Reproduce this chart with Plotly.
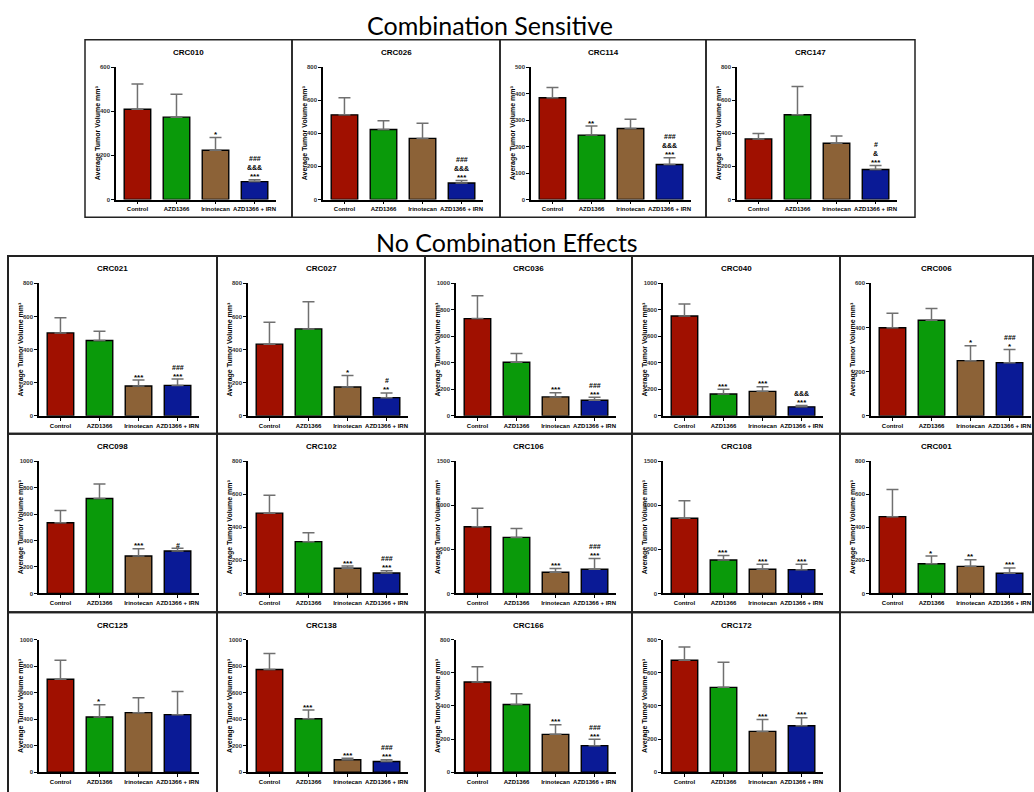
import plotly.graph_objects as go

# ---------------- data ----------------
groups = ["Control", "AZD1366", "Irinotecan", "AZD1366 + IRN"]
panels = ["CRC010", "CRC026", "CRC114", "CRC147",
          "CRC021", "CRC027", "CRC036", "CRC040", "CRC006",
          "CRC098", "CRC102", "CRC106", "CRC108", "CRC001",
          "CRC125", "CRC138", "CRC166", "CRC172"]
y_max = [600, 800, 500, 800, 800, 800, 1000, 1000, 600, 1000, 800, 1500, 1500, 800, 1000, 1000, 800, 800]
y_step = [200, 200, 100, 200, 200, 200, 200, 200, 200, 200, 200, 500, 500, 200, 200, 200, 200, 200]

control_mean = [409, 511, 384, 366, 501, 433, 734, 754, 399, 534, 485, 756, 851, 464, 701, 775, 544, 676]
control_sem = [114, 104, 39, 32, 92, 132, 173, 91, 66, 93, 108, 210, 199, 164, 144, 120, 92, 80]
azd_mean = [373, 423, 243, 512, 455, 525, 404, 165, 433, 717, 313, 635, 379, 180, 416, 403, 408, 512]
azd_sem = [104, 52, 34, 171, 56, 164, 67, 35, 53, 110, 54, 102, 52, 46, 93, 65, 66, 152]
irn_mean = [223, 369, 268, 340, 180, 174, 143, 185, 250, 283, 152, 241, 274, 164, 449, 93, 228, 246]
irn_sem = [58, 92, 35, 44, 36, 70, 32, 35, 68, 55, 14, 41, 56, 40, 112, 12, 58, 72]
combo_mean = [81, 100, 132, 181, 184, 110, 118, 68, 241, 321, 124, 274, 270, 122, 434, 80, 160, 280]
combo_sem = [9, 14, 26, 24, 38, 28, 22, 10, 59, 20, 14, 121, 60, 32, 174, 13, 38, 48]

# significance marks, lines listed top to bottom, separated by "|"
control_sig = [""] * 18
azd_sig = ["", "", "**", "", "", "", "", "***", "", "", "", "", "***", "*", "*", "***", "", ""]
irn_sig = ["*", "", "", "", "***", "*", "***", "***", "*", "***", "***", "***", "***", "**", "", "***", "***", "***"]
combo_sig = ["###|&&&|***", "###|&&&|***", "###|&&&|***", "#|&|***",
             "###|***", "#|**", "###|***", "&&&|***", "###|*",
             "#", "###|***", "###|***", "***", "***",
             "", "###|***", "###|***", "***"]

colors = ["#A01000", "#0A9A0A", "#8C6237", "#0A1A96"]

# ---------------- layout geometry ----------------
W, H = 1034, 792
top_lefts = [85, 292, 500, 706]
top_right = 915
grid_lefts = [8, 217, 425, 632, 840]
grid_right = 1033
row_tops = [255, 434, 614]
row_bottoms = [434, 614, 796]

boxes = []  # (L, T, R, B)
for i, L in enumerate(top_lefts):
    R = top_lefts[i + 1] if i + 1 < len(top_lefts) else top_right
    boxes.append((L, 37, R, 216))
for r in range(3):
    ncols = 5 if r < 2 else 4
    for c in range(ncols):
        L = grid_lefts[c]
        R = grid_lefts[c + 1] if c + 1 < len(grid_lefts) else grid_right
        boxes.append((L, row_tops[r], R, row_bottoms[r]))

fig = go.Figure()
annotations = []
shapes = []
FONT = "Liberation Sans, Arial, sans-serif"

for i, name in enumerate(panels):
    n = i + 1
    L, T, R, B = boxes[i]
    xs = "x" if n == 1 else f"x{n}"
    ys = "y" if n == 1 else f"y{n}"
    xk = "xaxis" if n == 1 else f"xaxis{n}"
    yk = "yaxis" if n == 1 else f"yaxis{n}"

    means = [control_mean[i], azd_mean[i], irn_mean[i], combo_mean[i]]
    sems = [control_sem[i], azd_sem[i], irn_sem[i], combo_sem[i]]
    sigs = [control_sig[i], azd_sig[i], irn_sig[i], combo_sig[i]]

    fig.add_trace(go.Bar(
        x=[0, 1, 2, 3], y=means, xaxis=xs, yaxis=ys, width=0.68,
        marker=dict(color=colors, line=dict(color="black", width=1.4)),
        error_y=dict(type="data", array=sems, arrayminus=[0, 0, 0, 0], symmetric=False,
                     color="#707070", thickness=1.5, width=6),
        hoverinfo="skip",
    ))

    x0 = (L + 31) / W
    x1 = (L + 191) / W
    y0 = 1 - (T + 161) / H
    y1 = 1 - (T + 27.5) / H

    fig.layout[xk] = dict(
        domain=[x0, x1], range=[-0.55, 3.55], anchor=ys,
        tickvals=[0, 1, 2, 3], ticktext=groups, tickangle=0,
        showline=True, linecolor="black", linewidth=1.5,
        ticks="outside", ticklen=3, tickwidth=1, tickcolor="black",
        tickfont=dict(size=6, family=FONT, color="black", weight="bold"),
        showgrid=False, zeroline=False, fixedrange=True,
    )
    fig.layout[yk] = dict(
        domain=[y0, y1], range=[0, y_max[i]], anchor=xs,
        tickvals=list(range(0, y_max[i] + 1, y_step[i])),
        showline=True, linecolor="black", linewidth=1.5,
        ticks="outside", ticklen=3, tickwidth=1, tickcolor="black",
        tickfont=dict(size=6, family=FONT, color="#333333", weight="bold"),
        showgrid=False, zeroline=False, fixedrange=True,
    )

    # panel title
    annotations.append(dict(
        text=name, x=(L + R) / 2 / W, y=1 - (T + 13) / H,
        xref="paper", yref="paper", showarrow=False, xanchor="center", yanchor="middle",
        font=dict(size=8, family=FONT, color="black", weight="bold"),
    ))
    # y axis title
    annotations.append(dict(
        text="Average Tumor Volume mm³",
        x=(L + 13) / W, y=(y0 + y1) / 2, xref="paper", yref="paper",
        showarrow=False, textangle=-90, xanchor="center", yanchor="middle",
        font=dict(size=7, family=FONT, color="black", weight="bold"),
    ))
    # significance marks
    for k in range(4):
        if not sigs[k]:
            continue
        lines = sigs[k].split("|")[::-1]  # bottom first
        for j, line in enumerate(lines):
            annotations.append(dict(
                text=line, x=k, y=means[k] + sems[k], xref=xs, yref=ys,
                showarrow=False, xanchor="center", yanchor="middle",
                yshift=3 + 9 * j,
                font=dict(size=8 if "*" in line else 7, family=FONT, color="black", weight="bold"),
            ))

    # panel frame
    shapes.append(dict(
        type="rect", xref="paper", yref="paper",
        x0=L / W, x1=R / W, y0=1 - B / H, y1=1 - T / H,
        line=dict(color="#222222", width=1.5 if i < 4 else 2), fillcolor="rgba(0,0,0,0)",
        layer="below",
    ))

annotations.append(dict(
    text="Combination Sensitive", x=490 / W, y=1 - 22 / H, xref="paper", yref="paper",
    showarrow=False, xanchor="center", yanchor="middle",
    font=dict(size=25, family="Lato, Open Sans, sans-serif", color="black"),
))
annotations.append(dict(
    text="No Combination Effects", x=507 / W, y=1 - 241 / H, xref="paper", yref="paper",
    showarrow=False, xanchor="center", yanchor="middle",
    font=dict(size=25, family="Lato, Open Sans, sans-serif", color="black"),
))

fig.update_layout(
    width=W, height=H, margin=dict(l=0, r=0, t=0, b=0),
    paper_bgcolor="white", plot_bgcolor="white",
    showlegend=False, annotations=annotations, shapes=shapes,
)

fig.write_html("out.html", config={"displayModeBar": False})

# remove the default page margin so the figure sits at the window's top-left corner
with open("out.html", "r", encoding="utf-8") as f:
    html = f.read()
html = html.replace("<head>", "<head><style>html,body{margin:0;padding:0;overflow:hidden;}</style>", 1)
with open("out.html", "w", encoding="utf-8") as f:
    f.write(html)
